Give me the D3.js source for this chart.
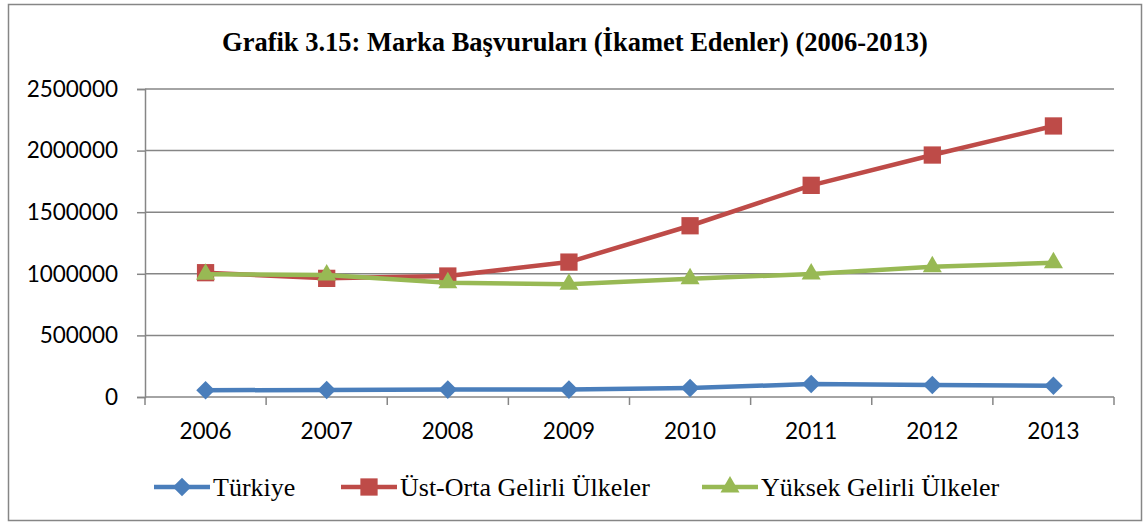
<!DOCTYPE html>
<html>
<head>
<meta charset="utf-8">
<script src="https://cdn.jsdelivr.net/npm/d3@7"></script>
<style>
  body { margin: 0; background: #fff; }
  svg { display: block; }
</style>
</head>
<body>
<svg id="chart"></svg>
<script>
const years = ['2006', '2007', '2008', '2009', '2010', '2011', '2012', '2013'];
const turkiye = [55000, 57000, 60000, 60000, 73000, 105000, 97000, 92000];
const ustOrta = [1009000, 963000, 982000, 1095000, 1390000, 1718000, 1964000, 2200000];
const yuksek = [996000, 990000, 928000, 915000, 960000, 998000, 1057000, 1090000];
const yTicks = [0, 500000, 1000000, 1500000, 2000000, 2500000];
const seriesNames = ['Türkiye', 'Üst-Orta Gelirli Ülkeler', 'Yüksek Gelirli Ülkeler'];

const width = 1144;
const height = 522;
const margin = {top: 89, right: 30, bottom: 125, left: 145};
const gridColor = '#868686';

const series = [
  {name: seriesNames[0], values: turkiye, color: '#4a7ebb', marker: d3.symbolDiamond2, size: 220},
  {name: seriesNames[1], values: ustOrta, color: '#be4b48', marker: d3.symbolSquare2, size: 380},
  {name: seriesNames[2], values: yuksek, color: '#98b954', marker: d3.symbolTriangle2, size: 260}
];

const svg = d3.select('#chart')
  .attr('width', width)
  .attr('height', height);

// outer frame
svg.append('rect')
  .attr('x', 8.5).attr('y', 4.5)
  .attr('width', 1133).attr('height', 516)
  .attr('fill', 'none')
  .attr('stroke', gridColor)
  .attr('stroke-width', 1.5);

svg.append('text')
  .attr('x', 575).attr('y', 51)
  .attr('text-anchor', 'middle')
  .attr('font-family', '"Liberation Serif", "Times New Roman", serif')
  .attr('font-weight', 'bold')
  .attr('font-size', 26.5)
  .text('Grafik 3.15: Marka Başvuruları (İkamet Edenler) (2006-2013)');

const x = d3.scaleBand()
  .domain(years)
  .range([margin.left, width - margin.right]);

const y = d3.scaleLinear()
  .domain([0, 2500000])
  .range([height - margin.bottom, margin.top]);

// gridlines
svg.append('g')
  .selectAll('line')
  .data(yTicks.filter(d => d > 0))
  .join('line')
  .attr('x1', margin.left).attr('x2', width - margin.right)
  .attr('y1', d => y(d)).attr('y2', d => y(d))
  .attr('stroke', gridColor)
  .attr('stroke-width', 1.5);

// y axis
const yAxis = svg.append('g')
  .attr('transform', `translate(${margin.left},0)`)
  .call(d3.axisLeft(y).tickValues(yTicks).tickSize(8).tickPadding(19).tickFormat(d3.format('d')));
yAxis.select('.domain').attr('stroke', gridColor).attr('stroke-width', 1.5);
yAxis.selectAll('.tick line').attr('stroke', gridColor).attr('stroke-width', 1.5);
yAxis.selectAll('text')
  .attr('font-family', 'Lato, "Open Sans", sans-serif')
  .attr('font-size', 22.5)
  .attr('fill', '#000');

// x axis: labels centred in bands, ticks on band boundaries
const xAxis = svg.append('g')
  .attr('transform', `translate(0,${y(0)})`)
  .call(d3.axisBottom(x).tickSize(0).tickPadding(26));
xAxis.select('.domain').remove();
xAxis.selectAll('text')
  .attr('font-family', 'Lato, "Open Sans", sans-serif')
  .attr('font-size', 22.5)
  .attr('fill', '#000');

svg.append('line')
  .attr('x1', margin.left).attr('x2', width - margin.right)
  .attr('y1', y(0)).attr('y2', y(0))
  .attr('stroke', gridColor)
  .attr('stroke-width', 1.5);

const bounds = years.map(d => x(d)).concat([x(years[years.length - 1]) + x.bandwidth()]);
svg.append('g')
  .selectAll('line')
  .data(bounds)
  .join('line')
  .attr('x1', d => d).attr('x2', d => d)
  .attr('y1', y(0)).attr('y2', y(0) + 8)
  .attr('stroke', gridColor)
  .attr('stroke-width', 1.5);

const cx = d => x(d) + x.bandwidth() / 2;
const line = d3.line()
  .x((d, i) => cx(years[i]))
  .y(d => y(d));

series.forEach(s => {
  const g = svg.append('g');
  g.append('path')
    .datum(s.values)
    .attr('d', line)
    .attr('fill', 'none')
    .attr('stroke', s.color)
    .attr('stroke-width', 4.5)
    .attr('stroke-linejoin', 'round');
  g.selectAll('path.mark')
    .data(s.values)
    .join('path')
    .attr('class', 'mark')
    .attr('d', d3.symbol().type(s.marker).size(s.size))
    .attr('transform', (d, i) => `translate(${cx(years[i])},${y(d)})`)
    .attr('fill', s.color);
});

// legend
const legendItems = [
  {lx: 154, tx: 213},
  {lx: 341, tx: 400},
  {lx: 702, tx: 761}
];
const legend = svg.append('g');
series.forEach((s, i) => {
  const it = legendItems[i];
  const ly = 487;
  legend.append('line')
    .attr('x1', it.lx).attr('x2', it.tx - 3)
    .attr('y1', ly).attr('y2', ly)
    .attr('stroke', s.color)
    .attr('stroke-width', 4.5);
  legend.append('path')
    .attr('d', d3.symbol().type(s.marker).size(s.size))
    .attr('transform', `translate(${(it.lx + it.tx - 3) / 2},${ly})`)
    .attr('fill', s.color);
  legend.append('text')
    .attr('x', it.tx).attr('y', ly + 9)
    .attr('font-family', '"Liberation Serif", "Times New Roman", serif')
    .attr('font-size', 26)
    .text(s.name);
});
</script>
</body>
</html>
